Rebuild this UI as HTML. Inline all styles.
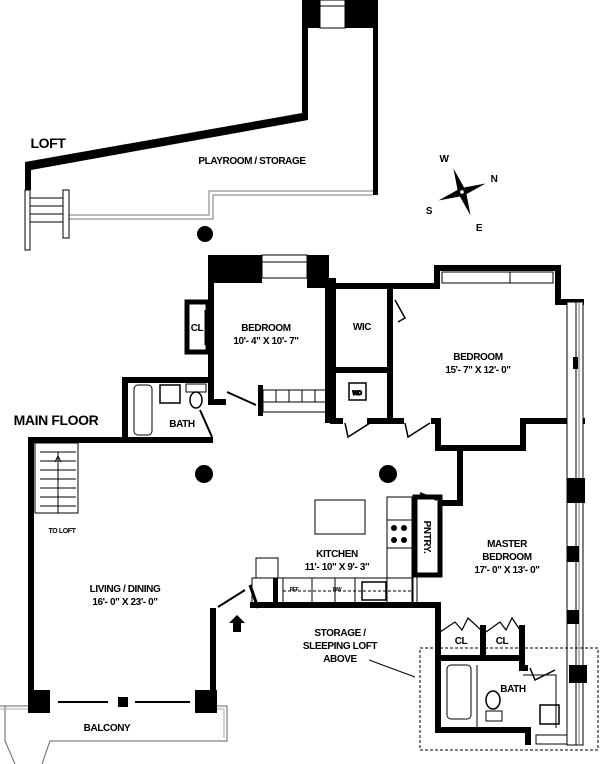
<!DOCTYPE html>
<html><head><meta charset="utf-8"><style>
html,body{margin:0;padding:0;background:#fff;}
svg{display:block;}
text{font-family:"Liberation Sans",sans-serif;font-weight:bold;fill:#000;text-anchor:middle;letter-spacing:-0.4px;}
</style></head><body>
<svg width="600" height="764" viewBox="0 0 600 764" xmlns="http://www.w3.org/2000/svg">
<g fill="none" stroke="#000">
<!-- LOFT -->
<polygon points="25,162 308,112 308,120 31,170 31,190 25,190" fill="#000" stroke="none"/>
<rect x="302" y="0" width="76" height="28" fill="#000" stroke="none"/>
<rect x="320" y="0" width="25" height="28" fill="#fff" stroke="#000" stroke-width="1"/>
<line x1="320" y1="6" x2="345" y2="6" stroke-width="1"/>
<rect x="302" y="28" width="6" height="86" fill="#000" stroke="none"/>
<rect x="373" y="0" width="5" height="195" fill="#000" stroke="none"/>
<path d="M373,191 H209 V215 H69" stroke="#777" stroke-width="1"/>
<path d="M373,195 H213 V219 H69" stroke="#777" stroke-width="1"/>
<rect x="25" y="190" width="5" height="60" fill="#fff" stroke-width="1"/>
<rect x="63" y="190" width="6" height="48" fill="#fff" stroke-width="1"/>
<path d="M30,198 H63 M30,206 H63 M30,214 H63 M30,222 H63" stroke-width="1"/>
<circle cx="205" cy="234" r="8" fill="#000" stroke="none"/>

<!-- compass -->
<g transform="translate(462,192) rotate(-20)" fill="#000" stroke="none">
<polygon points="0,-25 3.5,-3.5 25,0 3.5,3.5 0,25 -3.5,3.5 -25,0 -3.5,-3.5"/>
<circle r="1.8" fill="#fff"/>
</g>

<!-- MAIN FLOOR walls -->
<g stroke-width="6" stroke-linejoin="miter">
<path d="M31,700 V440 H213"/>
<path d="M125,440 V380 H211 V402 H226"/>
<path d="M211,280 V380"/>
<path d="M333,286 H437 V268 H558 V302 H584"/>
<path d="M336,370 H389"/>
<path d="M390,286 V421"/>
<path d="M330,421 H343 M367,421 H404 M431,421 H438 V448 H523 V421 H585"/>
<path d="M460,448 V503 H440"/>
<path d="M250,605 H438 V730 H528 V745"/>
<path d="M483,625 V660 M438,658 H522 M522,625 V668 H528"/>
<path d="M213,700 V608"/>
</g>
<rect x="208" y="255" width="54" height="28" fill="#000" stroke="none"/>
<rect x="262" y="255" width="45" height="23" fill="#fff" stroke-width="1"/>
<line x1="262" y1="262" x2="307" y2="262" stroke-width="1"/>
<rect x="307" y="255" width="22" height="33" fill="#000" stroke="none"/>
<rect x="325" y="278" width="11" height="145" fill="#000" stroke="none"/>
<rect x="187" y="302" width="21" height="50" stroke-width="5"/>
<line x1="205" y1="310" x2="205" y2="345" stroke-width="1"/>
<rect x="442" y="272" width="111" height="11" fill="#fff" stroke-width="1"/>
<line x1="510" y1="272" x2="510" y2="283" stroke-width="1"/>
<!-- right window strip -->
<rect x="567" y="302" width="16" height="443" fill="#fff" stroke-width="1"/>
<line x1="576" y1="302" x2="576" y2="745" stroke-width="1"/>
<line x1="579" y1="302" x2="579" y2="745" stroke-width="1" stroke="#777"/>
<rect x="573" y="357" width="5" height="12" fill="#000" stroke="none"/>
<rect x="567" y="478" width="18" height="25" fill="#000" stroke="none"/>
<rect x="567" y="546" width="12" height="16" fill="#000" stroke="none"/>
<rect x="567" y="610" width="12" height="14" fill="#000" stroke="none"/>
<rect x="569" y="665" width="18" height="18" fill="#000" stroke="none"/>
<rect x="536" y="735" width="31" height="9" fill="#fff" stroke-width="1"/>
<!-- doors -->
<path d="M395,300 L405,318 L398,322" stroke-width="1.5"/>
<path d="M345,423 L348,437 L370,423" stroke-width="1.5"/>
<path d="M405,423 L408,437 L430,423" stroke-width="1.5"/>
<path d="M227,392 L256,405" stroke-width="2"/>
<path d="M200,410 L212,437" stroke-width="2"/>
<path d="M420,493 L437,500" stroke-width="2"/>
<path d="M218,607 L245,590" stroke-width="2"/>
<path d="M250,585 L258,608" stroke-width="3"/>
<path d="M440,632 L455,622 L462,630 L468,618 L481,630 M486,632 L500,622 L506,630 L512,618 L520,630" stroke-width="1.2"/>
<path d="M530,668 L535,680 L555,670" stroke-width="1.5"/>
<!-- linen -->
<rect x="258" y="385" width="5" height="31" fill="#000" stroke="none"/>
<rect x="263" y="390" width="63" height="22" stroke-width="1"/>
<path d="M263,402 H326 M276,390 V402 M289,390 V402 M302,390 V402 M315,390 V402" stroke-width="1"/>
<!-- W/D -->
<rect x="349" y="383" width="17" height="17" stroke-width="1.5"/>
<text x="357" y="395" style="font-size:6px">WD</text>
<!-- bath 1 -->
<rect x="134" y="385" width="18" height="50" rx="4" stroke-width="1"/>
<rect x="160" y="385" width="20" height="18" stroke-width="1.5"/>
<rect x="186" y="384" width="20" height="8" stroke-width="1"/>
<ellipse cx="196" cy="400" rx="6" ry="8" stroke-width="1.5"/>
<!-- columns -->
<circle cx="204" cy="474" r="9" fill="#000" stroke="none"/>
<circle cx="388" cy="474" r="9" fill="#000" stroke="none"/>
<!-- stairs living -->
<rect x="35" y="443" width="43" height="70" stroke-width="1"/>
<path d="M40,452 H76 M40,461 H76 M40,470 H76 M40,479 H76 M40,488 H76 M40,497 H76 M40,506 H76 M58,452 V513" stroke-width="1"/>
<path d="M58,470 L58,458 M55,462 L58,456 L61,462" stroke-width="1"/>
<!-- kitchen -->
<rect x="315" y="500" width="50" height="34" stroke-width="1"/>
<rect x="387" y="497" width="25" height="108" stroke-width="1"/>
<line x1="387" y1="520" x2="412" y2="520" stroke-width="1"/>
<line x1="387" y1="548" x2="412" y2="548" stroke-width="1"/>
<g fill="#000" stroke="none"><circle cx="394" cy="528" r="3"/><circle cx="404" cy="528" r="3"/><circle cx="394" cy="540" r="3"/><circle cx="404" cy="540" r="3"/></g>
<rect x="252" y="578" width="160" height="26" stroke-width="1"/>
<path d="M283,578 V604 M312,578 V604 M335,578 V604 M355,578 V604" stroke-width="1"/>
<path d="M283,591 H412" stroke-width="1" stroke-dasharray="3,2"/>
<rect x="362" y="582" width="24" height="18" stroke-width="1.5"/>
<rect x="256" y="558" width="22" height="20" stroke-width="1"/>
<rect x="273" y="578" width="5" height="27" fill="#000" stroke="none"/>
<rect x="415" y="497" width="25" height="78" stroke-width="5"/>
<line x1="413" y1="575" x2="413" y2="605" stroke-width="1"/>
<line x1="417" y1="575" x2="417" y2="605" stroke-width="1"/>
<!-- master bath -->
<rect x="447" y="665" width="24" height="54" rx="4" stroke-width="1"/>
<line x1="477" y1="665" x2="477" y2="727" stroke-width="1"/>
<ellipse cx="493" cy="700" rx="7" ry="9" stroke-width="1.5"/>
<rect x="486" y="711" width="16" height="10" stroke-width="1"/>
<rect x="540" y="705" width="19" height="19" stroke-width="1.5"/>
<path d="M523,675 H556 V728" stroke-width="1"/>
<rect x="420" y="648" width="178" height="102" stroke-width="1" stroke-dasharray="3,2"/>
<line x1="369" y1="660" x2="415" y2="677" stroke-width="1"/>
<!-- living bottom / balcony -->
<rect x="28" y="690" width="22" height="23" fill="#000" stroke="none"/>
<rect x="195" y="690" width="22" height="23" fill="#000" stroke="none"/>
<rect x="118" y="697" width="10" height="10" fill="#000" stroke="none"/>
<path d="M58,702 H108 M135,702 H190" stroke-width="2"/>
<path d="M0,706 H28 M217,706 H227 V741 H50 L42,764 M5,706 V741 L15,764" stroke="#666" stroke-width="1"/>
<path d="M0,709 H28 M217,709 H224 V738" stroke="#aaa" stroke-width="1"/>
<polygon points="237,615 245,623 241,623 241,632 233,632 233,623 229,623" fill="#000" stroke="none"/>
</g>

<!-- TEXT -->
<text x="48" y="148" style="font-size:14px">LOFT</text>
<text x="252" y="164" style="font-size:10px">PLAYROOM / STORAGE</text>
<text x="444" y="162" style="font-size:10px">W</text>
<text x="494" y="182" style="font-size:10px">N</text>
<text x="479" y="231" style="font-size:10px">E</text>
<text x="429" y="214" style="font-size:10px">S</text>
<text x="56" y="425" style="font-size:14px">MAIN FLOOR</text>
<text x="197" y="331" style="font-size:10px">CL</text>
<text x="266" y="331" style="font-size:10px">BEDROOM</text>
<text x="266" y="344" style="font-size:10px">10'- 4" X 10'- 7"</text>
<text x="362" y="330" style="font-size:10px">WIC</text>
<text x="478" y="360" style="font-size:10px">BEDROOM</text>
<text x="478" y="373" style="font-size:10px">15'- 7" X 12'- 0"</text>
<text x="182" y="427" style="font-size:10px">BATH</text>
<text x="62" y="533" style="font-size:7px">TO LOFT</text>
<text x="337" y="557" style="font-size:10px">KITCHEN</text>
<text x="337" y="570" style="font-size:10px">11'- 10" X 9'- 3"</text>
<text x="294" y="591" style="font-size:5px">REF</text>
<text x="337" y="591" style="font-size:5px">D/W</text>
<text transform="translate(424,537) rotate(90)" style="font-size:10px">PNTRY.</text>
<text x="507" y="547" style="font-size:10px">MASTER</text>
<text x="507" y="560" style="font-size:10px">BEDROOM</text>
<text x="507" y="573" style="font-size:10px">17'- 0" X 13'- 0"</text>
<text x="125" y="592" style="font-size:10px">LIVING / DINING</text>
<text x="125" y="605" style="font-size:10px">16'- 0" X 23'- 0"</text>
<text x="340" y="636" style="font-size:10px">STORAGE /</text>
<text x="340" y="649" style="font-size:10px">SLEEPING LOFT</text>
<text x="340" y="662" style="font-size:10px">ABOVE</text>
<text x="461" y="644" style="font-size:10px">CL</text>
<text x="502" y="644" style="font-size:10px">CL</text>
<text x="513" y="692" style="font-size:10px">BATH</text>
<text x="107" y="731" style="font-size:10px">BALCONY</text>
</svg>
</body></html>
